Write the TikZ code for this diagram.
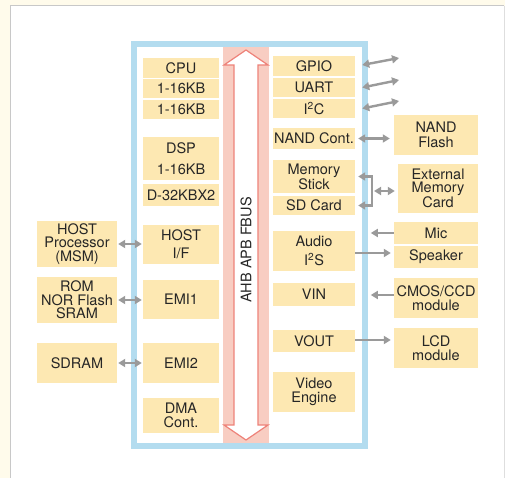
\documentclass[tikz,border=0pt]{standalone}
\usepackage{fontspec}
\setmainfont{TeX Gyre Heros}
\usetikzlibrary{arrows.meta,calc}
\definecolor{cream}{HTML}{FFFBEB}
\definecolor{edgegrey}{HTML}{C8C8C8}
\definecolor{boxc}{HTML}{FDE8B2}
\definecolor{frameblue}{HTML}{B3DCEF}
\definecolor{buspink}{HTML}{F8CDC2}
\definecolor{busred}{HTML}{EE8279}
\definecolor{arrgrey}{HTML}{9A9A9A}
\definecolor{txt}{HTML}{262626}
\tikzset{
  blk/.style={fill=boxc, draw=none, inner sep=0pt, align=center, text=txt,
    font=\fontsize{14.5}{13.5}\selectfont},
  lcol/.style={blk, minimum width=76pt},
  rcol/.style={blk, minimum width=82pt},
  xcol/.style={blk, minimum width=84pt},
  lext/.style={blk, minimum width=80pt},
  gline/.style={draw=arrgrey, line width=2.4pt},
  sarr/.style={gline, -{Triangle[length=7pt,width=8pt]}},
  darr/.style={gline, {Triangle[length=7pt,width=8pt]}-{Triangle[length=7pt,width=8pt]}},
}
\begin{document}
\begin{tikzpicture}[x=1pt,y=-1pt]
\useasboundingbox (0,0) rectangle (505,478);
% background
\fill[cream] (0,0) rectangle (505,478);
\fill[white] (10,6) rectangle (504,478);
\draw[edgegrey, line width=1pt] (10,478) -- (10,6) -- (504,6);
\draw[edgegrey!60, line width=1pt] (504,6) -- (504,478);
% bus background
\fill[buspink] (223,44) rectangle (269,446);
% bus arrow
\draw[busred, fill=white, line width=1.2pt, line join=miter]
  (246,50) -- (268,65) -- (258,65) -- (258,425) -- (268,425) -- (246,440)
  -- (224,425) -- (234,425) -- (234,65) -- (224,65) -- cycle;
\node[rotate=90, text=txt, font=\fontsize{14.5}{14}\selectfont] (bus) at (246,250) {AHB APB FBUS};
% frame
\draw[frameblue, line width=6pt] (134,44) rectangle (365,446);

% left column
\node[lcol, minimum height=20pt] (cpu) at (181,68) {CPU};
\node[lcol, minimum height=19pt] (ka) at (181,88.5) {1-16KB};
\node[lcol, minimum height=19pt] (kb) at (181,109.5) {1-16KB};
\node[lcol, minimum height=43pt] (dsp) at (181,158.5) {DSP\\[7.5pt]1-16KB};
\node[lcol, minimum height=22pt] (dk) at (181,195) {D-32KBX2};
\node[lcol, minimum height=39pt] (hostif) at (181,244.5) {HOST\\[4.5pt]I/F};
\node[lcol, minimum height=39pt] (emia) at (181,299.5) {EMI1};
\node[lcol, minimum height=40pt] (emib) at (181,363) {EMI2};
\node[lcol, minimum height=35pt] (dma) at (181,415.5) {DMA\\Cont.};

% right column
\node[rcol, minimum height=20pt] (gpio) at (314,66) {GPIO};
\node[rcol, minimum height=19pt] (uart) at (314,87.5) {UART};
\node[rcol, minimum height=19pt] (iic) at (314,108.5) {I\textsuperscript{2}C};
\node[rcol, minimum height=21pt] (nandc) at (314,138.5) {NAND Cont.};
\node[rcol, minimum height=33pt, font=\fontsize{14.5}{12.5}\selectfont] (mstick) at (314,176.5) {Memory\\Stick};
\node[rcol, minimum height=19pt] (sd) at (314,205.5) {SD Card};
\node[rcol, minimum height=40pt] (audio) at (314,251) {Audio\\[5.5pt]I\textsuperscript{2}S};
\node[rcol, minimum height=23pt] (vin) at (314,294.5) {VIN};
\node[rcol, minimum height=22pt] (vout) at (314,341) {VOUT};
\node[rcol, minimum height=40pt] (video) at (314,392) {Video\\Engine};

% external right
\node[xcol, minimum height=40pt] (nandf) at (436,135) {NAND\\[1.5pt]Flash};
\node[blk, minimum width=80pt, minimum height=49pt] (extmem) at (438,188.5) {External\\Memory\\Card};
\node[xcol, minimum height=22pt] (mic) at (436,233) {Mic};
\node[xcol, minimum height=22pt] (spk) at (436,257) {Speaker};
\node[xcol, minimum height=40pt] (cmos) at (436,298) {CMOS/CCD\\module};
\node[xcol, minimum height=40pt] (lcd) at (436,348) {LCD\\module};

% external left
\node[lext, minimum height=46pt] (hostp) at (77,244) {HOST\\Processor\\(MSM)};
\node[lext, minimum height=46pt] (rom) at (77,300) {ROM\\NOR Flash\\SRAM};
\node[lext, minimum height=40pt] (sdram) at (77,363) {SDRAM};

% left connectors
\draw[darr, shorten <=1pt, shorten >=1pt] (hostp.east) -- (hostp.east -| hostif.west);
\draw[darr, shorten <=1pt, shorten >=1pt] (rom.east) -- (rom.east -| emia.west);
\draw[darr, shorten <=1pt, shorten >=1pt] (sdram.east) -- (sdram.east -| emib.west);

% right top slanted
\coordinate (gend) at (399,58);
\coordinate (uend) at (399,80);
\coordinate (iend) at (399,101);
\draw[darr] ([xshift=7pt,yshift=1pt]gpio.east) -- (gend);
\draw[darr] ([xshift=7pt]uart.east) -- (uend);
\draw[darr] ([xshift=7pt]iic.east) -- (iend);

% NAND
\draw[darr, shorten <=3pt, shorten >=4pt] (nandc.east) -- (nandc.east -| nandf.west);

% memory bracket
\coordinate (brt) at (372,176.5);
\coordinate (brb) at (372,205.5);
\coordinate (brm) at (374,191);
\draw[gline, line cap=rect] (brt) -- (brb);
\draw[sarr] (brt) -- ([xshift=3pt]mstick.east);
\draw[sarr] (brb) -- ([xshift=3pt]sd.east);
\draw[darr, shorten >=3pt] (brm) -- (brm -| extmem.west);

% audio/video
\draw[sarr] (mic.west) -- ($(mic.west)+(-23,0)$);
\draw[sarr, shorten >=3pt] ([yshift=-2pt]audio.east) -- ([yshift=-2pt]audio.east -| spk.west);
\draw[sarr] ([yshift=3pt]cmos.west) -- ($([yshift=3pt]cmos.west)+(-23,0)$);
\draw[sarr, shorten >=3pt] ([yshift=1pt]vout.east) -- ([yshift=1pt]vout.east -| lcd.west);
\end{tikzpicture}
\end{document}
